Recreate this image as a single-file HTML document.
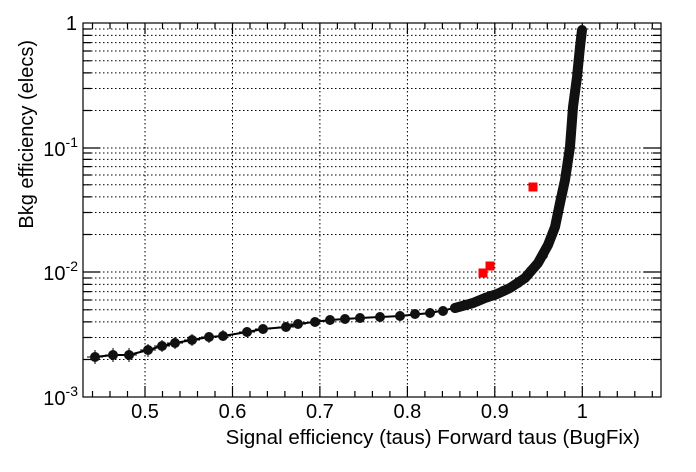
<!DOCTYPE html>
<html><head><meta charset="utf-8"><style>
body{margin:0;background:#fff;}
svg{display:block;font-family:"Liberation Sans",Arial,sans-serif;}
</style></head><body>
<svg width="696" height="472" viewBox="0 0 696 472" xmlns="http://www.w3.org/2000/svg">
<rect width="696" height="472" fill="#fff"/>
<g stroke="#000" stroke-width="1" stroke-dasharray="1.5,2.5" fill="none">
<path d="M145,23V397M232.5,23V397M319.9,23V397M407.4,23V397M494.8,23V397M582.3,23V397"/>
<path d="M83,359.5H661M83,337.5H661M83,321.9H661M83,309.8H661M83,300H661M83,291.6H661M83,284.4H661M83,278H661M83,272H661
M83,234.5H661M83,212.5H661M83,196.9H661M83,184.8H661M83,175H661M83,166.6H661M83,159.4H661M83,153H661M83,148H661
M83,110.5H661M83,88.5H661M83,72.9H661M83,60.8H661M83,51H661M83,42.6H661M83,35.4H661M83,29H661"/>
</g>
<g stroke="#000" stroke-width="1.2" fill="none">
<rect x="83" y="23" width="578" height="374"/>
<path d="M92.5,397v-6M110,397v-6M127.5,397v-6M162.5,397v-6M180,397v-6M197.5,397v-6M215,397v-6M250,397v-6M267.4,397v-6M284.9,397v-6M302.4,397v-6M337.4,397v-6M354.9,397v-6M372.4,397v-6M389.9,397v-6M424.9,397v-6M442.4,397v-6M459.9,397v-6M477.4,397v-6M512.3,397v-6M529.8,397v-6M547.3,397v-6M564.8,397v-6M599.8,397v-6M617.3,397v-6M634.8,397v-6M652.3,397v-6
M145,397v-11M232.5,397v-11M319.9,397v-11M407.4,397v-11M494.8,397v-11M582.3,397v-11"/>
<path d="M92.5,23v6M110,23v6M127.5,23v6M162.5,23v6M180,23v6M197.5,23v6M215,23v6M250,23v6M267.4,23v6M284.9,23v6M302.4,23v6M337.4,23v6M354.9,23v6M372.4,23v6M389.9,23v6M424.9,23v6M442.4,23v6M459.9,23v6M477.4,23v6M512.3,23v6M529.8,23v6M547.3,23v6M564.8,23v6M599.8,23v6M617.3,23v6M634.8,23v6M652.3,23v6
M145,23v11M232.5,23v11M319.9,23v11M407.4,23v11M494.8,23v11M582.3,23v11"/>
<path d="M83,359.5h8M83,337.5h8M83,321.9h8M83,309.8h8M83,300h8M83,291.6h8M83,284.4h8M83,278h8M83,272h17
M83,234.5h8M83,212.5h8M83,196.9h8M83,184.8h8M83,175h8M83,166.6h8M83,159.4h8M83,153h8M83,148h17
M83,110.5h8M83,88.5h8M83,72.9h8M83,60.8h8M83,51h8M83,42.6h8M83,35.4h8M83,29h8"/>
<path d="M661,359.5h-8M661,337.5h-8M661,321.9h-8M661,309.8h-8M661,300h-8M661,291.6h-8M661,284.4h-8M661,278h-8M661,272h-17
M661,234.5h-8M661,212.5h-8M661,196.9h-8M661,184.8h-8M661,175h-8M661,166.6h-8M661,159.4h-8M661,153h-8M661,148h-17
M661,110.5h-8M661,88.5h-8M661,72.9h-8M661,60.8h-8M661,51h-8M661,42.6h-8M661,35.4h-8M661,29h-8"/>
</g>
<g stroke="#000" stroke-width="1">
<path d="M95,350v14M87,357h16M113,348v14M105,355h16M129,348v14M121,355h16M148,344v13M140,350h16M162,340v12M154,346h16M175,337v12M167,343h16M192,334v12M184,340h16M209,332v11M201,337h16M223,330v11M215,336h16M247,327v10M239,332h16M263,325v9M255,329h16M286,322v9M278,327h16M298,320v8M290,324h16"/>
</g>
<polyline fill="none" stroke="#000" stroke-width="2" points="95,357 113,355 129,355 148,350 162,346 175,343 192,340 209,337 223,336 247,332 263,329 286,327 298,324 330,320 360,318 400,316 430,313 455,308"/>
<polyline fill="none" stroke="#111" stroke-width="10" stroke-linecap="round" stroke-linejoin="round" points="455,308 473,303 485,298 497,294 510,288 525,278 538,263 548,245 555,227 560,203 565,180 570,147 573,107 577,77 580,47 582,30"/>
<g fill="#111">
<circle cx="95" cy="357" r="5"/><circle cx="113" cy="355" r="5"/><circle cx="129" cy="355" r="5"/><circle cx="148" cy="350" r="5"/><circle cx="162" cy="346" r="5"/><circle cx="175" cy="343" r="5"/><circle cx="192" cy="340" r="5"/><circle cx="209" cy="337" r="5"/><circle cx="223" cy="336" r="5"/><circle cx="247" cy="332" r="5"/><circle cx="263" cy="329" r="5"/><circle cx="286" cy="327" r="5"/><circle cx="298" cy="324" r="5"/>
<circle cx="315" cy="322" r="5"/><circle cx="330" cy="320" r="5"/><circle cx="345" cy="319" r="5"/><circle cx="360" cy="318" r="5"/><circle cx="380" cy="317" r="5"/><circle cx="400" cy="316" r="5"/><circle cx="415" cy="314" r="5"/><circle cx="430" cy="313" r="5"/><circle cx="443" cy="311" r="5"/><circle cx="455" cy="308" r="5"/>
<circle cx="466" cy="305" r="5"/><circle cx="478" cy="301" r="5"/><circle cx="490" cy="296" r="5"/><circle cx="503" cy="291" r="5"/><circle cx="518" cy="283" r="5"/><circle cx="531" cy="271" r="5"/><circle cx="543" cy="255" r="5"/>
</g>
<g fill="#f00">
<rect x="478.5" y="268.5" width="9" height="9"/><rect x="485.5" y="261.5" width="9" height="9"/><rect x="528.5" y="182.5" width="9" height="9"/>
</g>
<g font-size="20" fill="#000" text-anchor="middle">
<text x="145" y="418">0.5</text><text x="232.5" y="418">0.6</text><text x="319.9" y="418">0.7</text><text x="407.4" y="418">0.8</text><text x="494.8" y="418">0.9</text><text x="582.3" y="418">1</text>
</g>
<g font-size="20" fill="#000" text-anchor="end">
<text x="77" y="30">1</text>
<text x="78" y="156">10<tspan font-size="14" dy="-9">-1</tspan></text>
<text x="78" y="280">10<tspan font-size="14" dy="-9">-2</tspan></text>
<text x="78" y="405">10<tspan font-size="14" dy="-9">-3</tspan></text>
<text x="640" y="444" font-size="20.5">Signal efficiency (taus) Forward taus (BugFix)</text>
<text transform="translate(33,40) rotate(-90)" font-size="20">Bkg efficiency (elecs)</text>
</g>
</svg>
</body></html>
